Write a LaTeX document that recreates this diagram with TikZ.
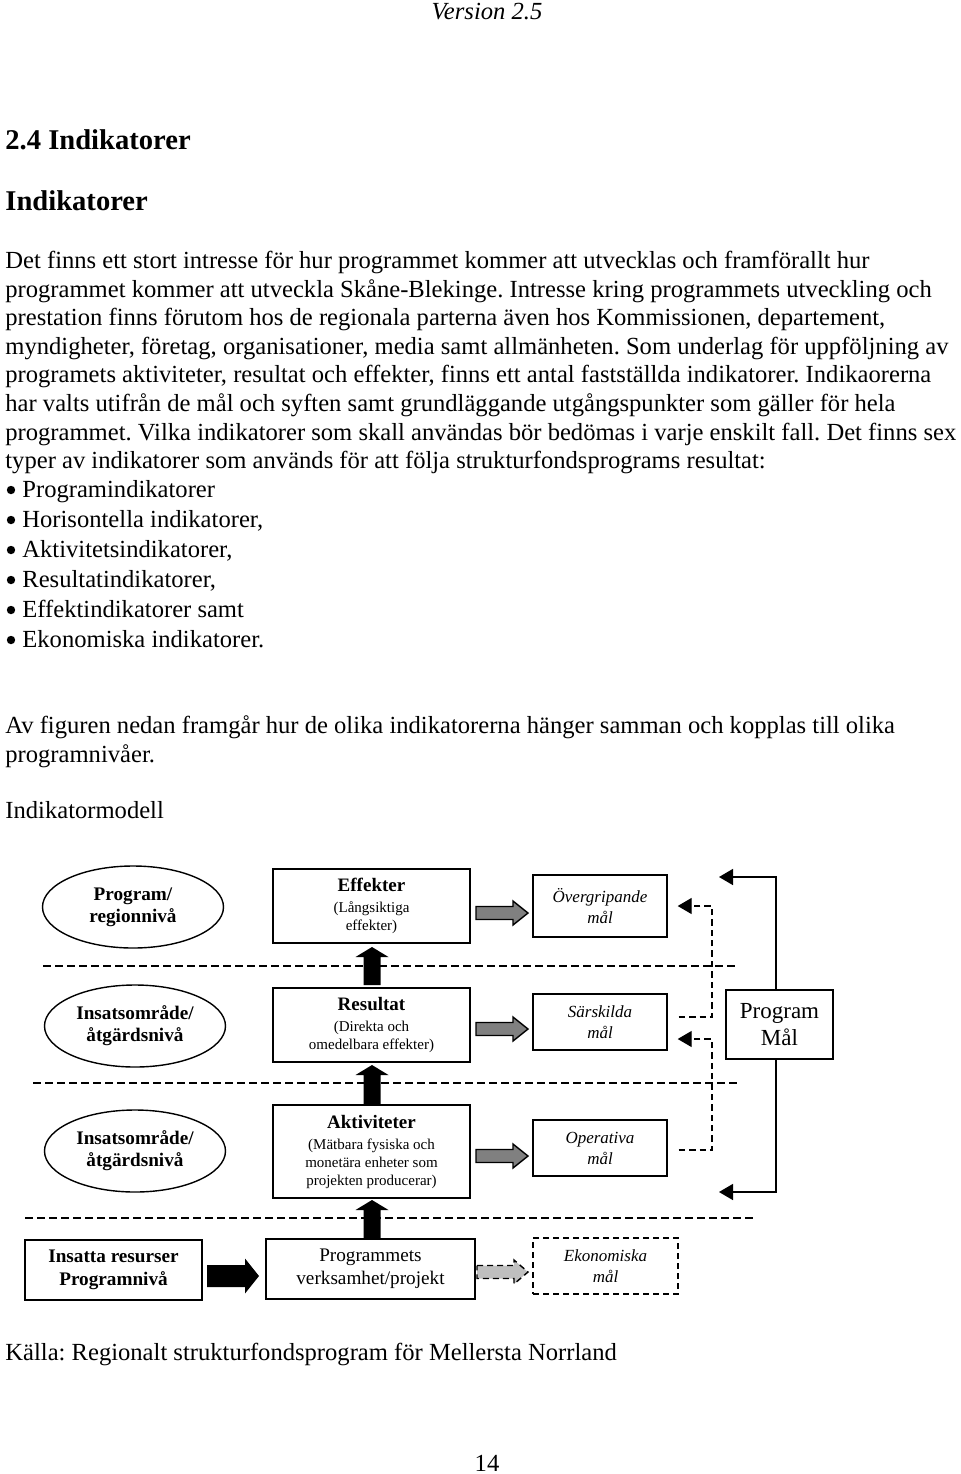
\documentclass[tikz,border=0pt]{standalone}
\usepackage{fontspec}
\setmainfont{Liberation Serif}
\frenchspacing
\usetikzlibrary{shapes.geometric,arrows.meta,calc}
\tikzset{
  line/.style={anchor=base west, inner sep=0pt},
  box/.style={draw, line width=0.7pt, inner sep=0pt, align=center},
  lvl/.style={draw, line width=0.7pt, ellipse, inner sep=0pt, align=center,
    minimum width=90.5pt, minimum height=41pt,
    font=\fontsize{9.6}{11}\selectfont\bfseries},
  sep/.style={dash pattern=on 3.8pt off 2.2pt, line width=0.7pt},
  dcon/.style={dash pattern=on 3.2pt off 2pt, line width=0.7pt, -{Triangle[length=7pt,width=8pt]}},
  scon/.style={line width=0.8pt, -{Triangle[length=7pt,width=8pt]}},
  grayarrow/.style={draw, line width=0.7pt, fill=black!50},
  lgrayarrow/.style={draw, line width=0.7pt, fill=black!25, dash pattern=on 3pt off 2pt},
  blkarrow/.style={fill=black},
  subbox/.style={box, font=\fontsize{7.5}{9}\selectfont},
  bulletdot/.style={circle, fill=black, inner sep=0pt, minimum size=4.2pt},
}
\newcommand{\bigt}{\fontsize{9.5}{11}\selectfont\bfseries}
% right block arrow
\newcommand{\rarrow}[7]{\path[#1] (#2,#5-#6) -- (#3,#5-#6) -- (#3,#5-#7) -- (#4,#5) -- (#3,#5+#7) -- (#3,#5+#6) -- (#2,#5+#6) -- cycle;}
% up block arrow
\newcommand{\uarrow}[6]{\path[blkarrow] (#1-#5,#2) -- (#1-#5,#3) -- (#1-#6,#3) -- (#1,#4) -- (#1+#6,#3) -- (#1+#5,#3) -- (#1+#5,#2) -- cycle;}
\begin{document}
\begin{tikzpicture}[x=0.5pt, y={(0pt,-0.5pt)}]
\useasboundingbox (0,0) rectangle (960,1474);
\fontsize{12.3}{14}\selectfont
% header
\node[anchor=base, inner sep=0pt] (ver) at (487,19) {\itshape Version 2.5};
\node[line] (h1) at (5,149) {\fontsize{14.3}{16}\selectfont\bfseries 2.4 Indikatorer};
\node[line] (h2) at (5,210) {\fontsize{14.3}{16}\selectfont\bfseries Indikatorer};
% paragraph
\node[line] (p1) at (5,268) {Det finns ett stort intresse för hur programmet kommer att utvecklas och framförallt hur};
\node[line] (p2) at (5,297) {programmet kommer att utveckla Skåne-Blekinge. Intresse kring programmets utveckling och};
\node[line] (p3) at (5,325) {prestation finns förutom hos de regionala parterna även hos Kommissionen, departement,};
\node[line] (p4) at (5,354) {myndigheter, företag, organisationer, media samt allmänheten. Som underlag för uppföljning av};
\node[line] (p5) at (5,382) {programets aktiviteter, resultat och effekter, finns ett antal fastställda indikatorer. Indikaorerna};
\node[line] (p6) at (5,411) {har valts utifrån de mål och syften samt grundläggande utgångspunkter som gäller för hela};
\node[line] (p7) at (5,440) {programmet. Vilka indikatorer som skall användas bör bedömas i varje enskilt fall. Det finns sex};
\node[line] (p8) at (5,468) {typer av indikatorer som används för att följa strukturfondsprograms resultat:};
% bullets
\foreach \yy in {497,527,557,587,617,647}{
  \node[bulletdot] at (11,\yy-7) {};
}
\node[line] (b1) at (22,497) {Programindikatorer};
\node[line] (b2) at (22,527) {Horisontella indikatorer,};
\node[line] (b3) at (22,557) {Aktivitetsindikatorer,};
\node[line] (b4) at (22,587) {Resultatindikatorer,};
\node[line] (b5) at (22,617) {Effektindikatorer samt};
\node[line] (b6) at (22,647) {Ekonomiska indikatorer.};
\node[line] (a1) at (5,733) {Av figuren nedan framgår hur de olika indikatorerna hänger samman och kopplas till olika};
\node[line] (a2) at (5,762) {programnivåer.};
\node[line] (im) at (5,818) {Indikatormodell};
% ---------- diagram ----------
\draw[sep] (43,966) -- (737,966);
\draw[sep] (33,1083) -- (739,1083);
\draw[sep] (25,1218) -- (756,1218);
\node[lvl] (e1) at (133,907) {Program/\\regionnivå};
\node[lvl] (e2) at (135,1026) {Insatsområde/\\åtgärdsnivå};
\node[lvl] (e3) at (135,1151) {Insatsområde/\\åtgärdsnivå};
\node[box, minimum width=88.5pt, minimum height=30pt, font=\fontsize{9.6}{11.5}\selectfont\bfseries] (res) at (113.5,1270) {Insatta resurser\\Programnivå};
\node[subbox, minimum width=98.5pt, minimum height=37pt] (eff) at (371.5,906)
  {\bigt Effekter\\[1.5pt](Långsiktiga\\effekter)};
\node[subbox, minimum width=98.5pt, minimum height=37pt] (rst) at (371.5,1025)
  {\bigt Resultat\\[1.5pt](Direkta och\\omedelbara effekter)};
\node[subbox, minimum width=98.5pt, minimum height=46.5pt] (akt) at (371.5,1151.5)
  {\bigt Aktiviteter\\[1.5pt](Mätbara fysiska och\\monetära enheter som\\projekten producerar)};
\node[box, minimum width=104.5pt, minimum height=30pt, font=\fontsize{9.6}{11.5}\selectfont] (prg) at (370.5,1269) {Programmets\\verksamhet/projekt};
\node[box, minimum width=67pt, minimum height=31pt, font=\fontsize{8.5}{10.5}\selectfont\itshape] (ovg) at (600,906) {Övergripande\\mål};
\node[box, minimum width=67pt, minimum height=28pt, font=\fontsize{8.5}{10.5}\selectfont\itshape] (sar) at (600,1022) {Särskilda\\mål};
\node[box, minimum width=67pt, minimum height=28pt, font=\fontsize{8.5}{10.5}\selectfont\itshape] (ope) at (600,1148) {Operativa\\mål};
\node[box, dash pattern=on 3pt off 2pt, minimum width=72.5pt, minimum height=28pt, font=\fontsize{8.5}{10.5}\selectfont\itshape] (eko) at (605.5,1266) {Ekonomiska\\mål};
\node[box, minimum width=53.5pt, minimum height=34.5pt, font=\fontsize{11.5}{13.5}\selectfont] (pm) at (779.5,1024.5) {Program\\Mål};
% up block arrows
\uarrow{372}{985}{957}{947}{8.5}{16.5}
\uarrow{372}{1104}{1075}{1065}{8.5}{16.5}
\uarrow{372}{1238}{1210}{1200}{8.5}{16.5}
% right block arrows
\rarrow{grayarrow}{476}{513}{528}{913}{6.5}{12}
\rarrow{grayarrow}{476}{513}{528}{1029}{6.5}{12}
\rarrow{grayarrow}{476}{513}{528}{1156}{6.5}{12}
\rarrow{lgrayarrow}{477}{514}{528}{1272}{6.5}{12}
\rarrow{blkarrow}{207}{245}{259}{1276}{11}{17.5}
% dashed connectors
\draw[dcon] ($(sar.east)+(11,-5)$) -| (712,930) |- ($(ovg.east)+(10,0)$);
\draw[dcon] ($(ope.east)+(11,2)$) -| (712,1060) |- ($(sar.east)+(10,17)$);
% program mål connectors
\coordinate (t1) at (719,877);
\coordinate (t2) at (719,1192);
\draw[scon] ($(pm.north)+(-3.5,0)$) |- (t1);
\draw[scon] ($(pm.south)+(-3.5,0)$) |- (t2);
% footer
\node[line] (src) at (5,1360) {Källa: Regionalt strukturfondsprogram för Mellersta Norrland};
\node[anchor=base, inner sep=0pt] (pg) at (487,1471) {14};
\end{tikzpicture}
\end{document}
